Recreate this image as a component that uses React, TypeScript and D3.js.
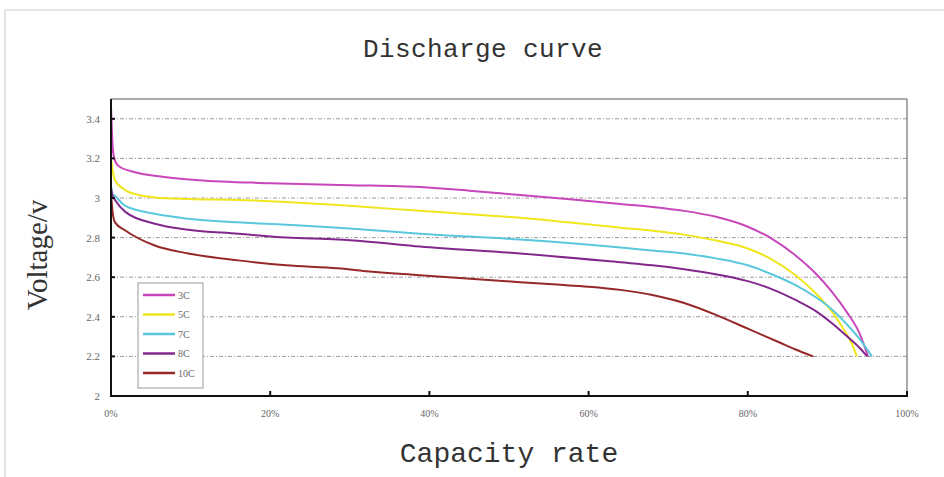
import React from "react";
import * as d3 from "d3";

const W = 944;
const H = 477;

const yTicks = [2, 2.2, 2.4, 2.6, 2.8, 3, 3.2, 3.4];
const yTickLabels = ["2", "2.2", "2.4", "2.6", "2.8", "3", "3.2", "3.4"];
const xTicks = [0, 20, 40, 60, 80, 100];
const xTickLabels = ["0%", "20%", "40%", "60%", "80%", "100%"];

const seriesNames = ["3C", "5C", "7C", "8C", "10C"];
const seriesColors = ["#c846b9", "#f0e61e", "#5ac8dc", "#82288c", "#962828"];

// [capacity %, voltage]
const curve3C: [number, number][] = [
  [0, 3.46], [0.15, 3.3], [0.4, 3.2], [1, 3.16], [3, 3.13], [6, 3.11], [11, 3.09], [20, 3.075],
  [30, 3.065], [38.8, 3.055], [45, 3.037], [51.4, 3.015], [58, 2.993], [64, 2.97], [68, 2.955],
  [72, 2.935], [76, 2.905], [80, 2.855], [83, 2.795], [86, 2.71], [88.5, 2.62], [90.5, 2.53],
  [92.5, 2.42], [94, 2.32], [95.1, 2.2],
];
const curve5C: [number, number][] = [
  [0, 3.2], [0.2, 3.14], [0.5, 3.09], [1.8, 3.04], [3.5, 3.015], [5.5, 3.003], [9.7, 2.995],
  [16, 2.99], [22, 2.98], [28.5, 2.965], [32, 2.955], [38.8, 2.935], [51.4, 2.9], [64, 2.85],
  [68, 2.835], [72, 2.815], [76, 2.785], [80, 2.745], [83, 2.69], [86, 2.61], [88.5, 2.52],
  [90.5, 2.43], [92, 2.34], [93, 2.27], [93.7, 2.2],
];
const curve7C: [number, number][] = [
  [0, 3.06], [0.2, 3.02], [0.5, 3.01], [1.8, 2.96], [5.5, 2.92], [9.7, 2.895], [16, 2.877],
  [22, 2.865], [28.5, 2.85], [32, 2.84], [38.8, 2.82], [51.4, 2.79], [64, 2.75], [68, 2.735],
  [72, 2.72], [76, 2.695], [80, 2.66], [83, 2.615], [86, 2.56], [88.5, 2.5], [90.5, 2.44],
  [92.5, 2.36], [94.2, 2.28], [95.6, 2.2],
];
const curve8C: [number, number][] = [
  [0, 3.05], [0.2, 3.01], [0.5, 2.99], [1.8, 2.93], [5.5, 2.87], [9.7, 2.84], [16, 2.82],
  [22, 2.8], [28.5, 2.79], [32, 2.78], [38.8, 2.755], [51.4, 2.72], [64, 2.675], [68, 2.66],
  [72, 2.64], [76, 2.615], [80, 2.58], [83, 2.54], [86, 2.485], [88.5, 2.43], [90.5, 2.37],
  [92.5, 2.3], [94, 2.245], [95, 2.2],
];
const curve10C: [number, number][] = [
  [0, 3.02], [0.2, 2.93], [0.5, 2.877], [1.8, 2.836], [5.5, 2.76], [9.7, 2.72], [16, 2.685],
  [22, 2.66], [28.5, 2.645], [32, 2.63], [38.8, 2.61], [51.4, 2.575], [56, 2.563], [60, 2.552],
  [64, 2.536], [68, 2.51], [72, 2.47], [76, 2.41], [80, 2.34], [84, 2.27], [86, 2.235], [88.2, 2.2],
];
const curves = [curve3C, curve5C, curve7C, curve8C, curve10C];

const margin = { left: 111, right: 907, top: 99, bottom: 396 };

export default function App() {
  const x = d3.scaleLinear().domain([0, 100]).range([margin.left, margin.right]);
  const y = d3.scaleLinear().domain([2, 3.5]).range([margin.bottom, margin.top]);
  const line = d3
    .line<[number, number]>()
    .x((d) => x(d[0]))
    .y((d) => y(d[1]))
    .curve(d3.curveMonotoneX);

  const legendX = 138;
  const legendY = 283;
  const legendRow = 19.5;

  return (
    <svg
      width={W}
      height={H}
      style={{ position: "absolute", left: 0, top: 0, background: "#fff" }}
    >
      {/* outer frame */}
      <line x1={5} x2={W} y1={10} y2={10} stroke="#e4e4e4" strokeWidth={2} />
      <line x1={5} x2={5} y1={10} y2={H} stroke="#e4e4e4" strokeWidth={2} />

      <text
        x={483}
        y={57}
        textAnchor="middle"
        fontFamily="Liberation Mono"
        fontSize={26}
        letterSpacing={0.4}
        fill="#333"
      >
        Discharge curve
      </text>

      {/* grid */}
      {yTicks.slice(1).map((t) => (
        <line
          key={t}
          x1={margin.left}
          x2={margin.right}
          y1={y(t)}
          y2={y(t)}
          stroke="#9a9a9a"
          strokeWidth={1}
          strokeDasharray="4,2,1,2"
        />
      ))}

      {/* frame top/right */}
      <line x1={margin.left} x2={margin.right} y1={margin.top} y2={margin.top} stroke="#8c8c8c" strokeWidth={1.5} />
      <line x1={margin.right} x2={margin.right} y1={margin.top} y2={margin.bottom} stroke="#8c8c8c" strokeWidth={1.5} />

      {/* curves */}
      {curves.map((c, i) => (
        <path key={seriesNames[i]} d={line(c) || ""} fill="none" stroke={seriesColors[i]} strokeWidth={2} />
      ))}

      {/* axes */}
      <line x1={margin.left} x2={margin.left} y1={margin.top} y2={margin.bottom} stroke="#111" strokeWidth={2} />
      <line x1={margin.left - 1} x2={margin.right + 1} y1={margin.bottom} y2={margin.bottom} stroke="#111" strokeWidth={2} />
      {yTicks.slice(1).map((t) => (
        <line key={t} x1={margin.left} x2={margin.left + 4} y1={y(t)} y2={y(t)} stroke="#111" strokeWidth={2} />
      ))}
      {xTicks.slice(1).map((t) => (
        <line key={t} x1={x(t)} x2={x(t)} y1={margin.bottom} y2={margin.bottom - 5} stroke="#111" strokeWidth={2} />
      ))}

      {yTicks.map((t, i) => (
        <text
          key={t}
          x={100}
          y={y(t) + 4}
          textAnchor="end"
          fontFamily="Liberation Serif"
          fontSize={11}
          fill="#666"
        >
          {yTickLabels[i]}
        </text>
      ))}
      {xTicks.map((t, i) => (
        <text
          key={t}
          x={x(t)}
          y={417}
          textAnchor="middle"
          fontFamily="Liberation Serif"
          fontSize={10}
          fill="#666"
        >
          {xTickLabels[i]}
        </text>
      ))}

      <text
        x={509}
        y={462}
        textAnchor="middle"
        fontFamily="Liberation Mono"
        fontSize={28}
        fill="#333"
      >
        Capacity rate
      </text>
      <text
        transform="translate(47,255) rotate(-90)"
        textAnchor="middle"
        fontFamily="Liberation Serif"
        fontSize={29}
        fill="#333"
      >
        Voltage/v
      </text>

      {/* legend */}
      <rect x={legendX} y={legendY} width={65} height={105} fill="#fff" stroke="#999" strokeWidth={1} />
      {seriesNames.map((n, i) => {
        const ly = legendY + 12 + i * legendRow;
        return (
          <g key={n}>
            <line x1={143} x2={175} y1={ly} y2={ly} stroke={seriesColors[i]} strokeWidth={2.5} />
            <text x={178} y={ly + 3.5} fontFamily="Liberation Serif" fontSize={10} fill="#666">
              {n}
            </text>
          </g>
        );
      })}
    </svg>
  );
}
